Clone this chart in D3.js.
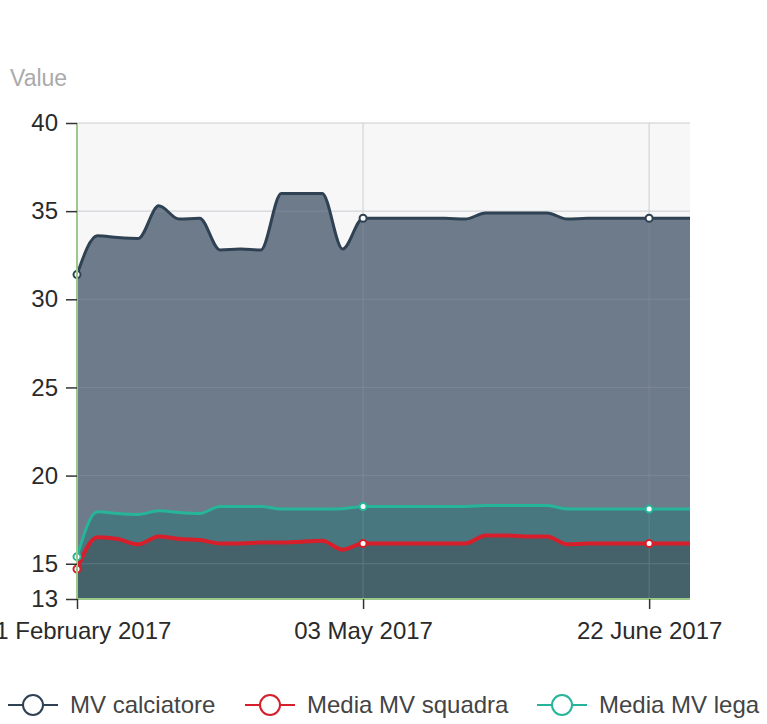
<!DOCTYPE html>
<html>
<head>
<meta charset="utf-8">
<script src="https://cdn.jsdelivr.net/npm/d3@7"></script>
<style>
  html, body { margin: 0; padding: 0; background: #fff; }
  svg { display: block; font-family: "Liberation Sans", Arial, Helvetica, sans-serif; }
</style>
</head>
<body>
<svg id="chart" width="767" height="724"></svg>
<script>
// ---- data ----
const dates = [
  "2017-02-11","2017-02-17","2017-02-23","2017-03-01","2017-03-07","2017-03-13","2017-03-19",
  "2017-03-25","2017-03-31","2017-04-06","2017-04-12","2017-04-18","2017-04-24","2017-04-29",
  "2017-05-03","2017-05-07","2017-05-10","2017-05-14","2017-05-17","2017-05-21","2017-05-24",
  "2017-05-28","2017-05-31","2017-06-04","2017-06-07","2017-06-11","2017-06-14","2017-06-18",
  "2017-06-22","2017-06-25","2017-06-29"
];
const mvCalciatore = [31.4, 33.6, 33.5, 33.45, 35.3, 34.55, 34.6, 32.8, 32.85, 32.8, 36.0, 36.0, 36.0, 32.85, 34.6,
  34.6, 34.6, 34.6, 34.6, 34.55, 34.9, 34.9, 34.9, 34.9, 34.55, 34.6, 34.6, 34.6, 34.6, 34.6, 34.6];
const mediaSquadra = [14.7, 16.5, 16.4, 16.1, 16.55, 16.4, 16.35, 16.15, 16.15, 16.2, 16.2, 16.25, 16.3, 15.8, 16.15,
  16.15, 16.15, 16.15, 16.15, 16.15, 16.6, 16.6, 16.55, 16.55, 16.1, 16.15, 16.15, 16.15, 16.15, 16.15, 16.15];
const mediaLega = [15.4, 17.95, 17.85, 17.8, 18.0, 17.9, 17.85, 18.25, 18.25, 18.25, 18.1, 18.1, 18.1, 18.12, 18.25,
  18.25, 18.25, 18.25, 18.25, 18.25, 18.3, 18.3, 18.3, 18.3, 18.1, 18.1, 18.1, 18.1, 18.1, 18.1, 18.1];
const seriesNames = ["MV calciatore", "Media MV squadra", "Media MV lega"];
const yTicks = [13, 15, 20, 25, 30, 35, 40];
const xTickDates = ["2017-02-11", "2017-05-03", "2017-06-22"];
const yLabel = "Value";

// ---- styles (indexed like seriesNames) ----
const lineColors = ["#2f4254", "#d71f2b", "#27b59a"];
const areaColors = ["#6e7b8b", "#45626b", "#487780"];
const lineWidths = [3, 4, 3];

const svg = d3.select("#chart");
const margin = { left: 77, top: 123 };
const W = 613, H = 476;
const g = svg.append("g").attr("transform", `translate(${margin.left},${margin.top})`);

const x = d3.scalePoint().domain(dates).range([0, W]);
const y = d3.scaleLinear().domain([13, 40]).range([H, 0]);
const parse = d3.timeParse("%Y-%m-%d");
const fmt = d3.timeFormat("%d %B %Y");

// background
g.append("rect").attr("x", 0).attr("y", 0).attr("width", W).attr("height", H).attr("fill", "#f7f7f7");

function drawGrid(parent, color, opacity) {
  const gg = parent.append("g").attr("opacity", opacity);
  gg.selectAll("line.h").data(yTicks).join("line").attr("class", "h")
    .attr("x1", 0).attr("x2", W).attr("y1", d => y(d)).attr("y2", d => y(d))
    .attr("stroke", color).attr("stroke-width", 1);
  gg.selectAll("line.v").data(xTickDates).join("line").attr("class", "v")
    .attr("x1", d => x(d)).attr("x2", d => x(d)).attr("y1", 0).attr("y2", H)
    .attr("stroke", color).attr("stroke-width", 1);
}
drawGrid(g, "#e4e4e4", 1);

// draw order: calciatore, lega, squadra
const series = [mvCalciatore, mediaLega, mediaSquadra];
const colorIdx = [0, 2, 1];

const area = d3.area().x((d, i) => x(dates[i])).y0(H).y1(d => y(d)).curve(d3.curveMonotoneX);
const line = d3.line().x((d, i) => x(dates[i])).y(d => y(d)).curve(d3.curveMonotoneX);

series.forEach((s, k) => {
  g.append("path").datum(s).attr("d", area).attr("fill", areaColors[colorIdx[k]]);
});
drawGrid(g, "#9aa5b1", 0.3);

series.forEach((s, k) => {
  const c = colorIdx[k];
  g.append("path").datum(s).attr("d", line).attr("fill", "none")
    .attr("stroke", lineColors[c]).attr("stroke-width", lineWidths[c]).attr("stroke-linejoin", "round");
});
// markers at labelled dates
const markIdx = xTickDates.map(d => dates.indexOf(d));
series.forEach((s, k) => {
  const c = colorIdx[k];
  g.append("g").selectAll("circle").data(markIdx).join("circle")
    .attr("cx", i => x(dates[i])).attr("cy", i => y(s[i])).attr("r", 3.5)
    .attr("fill", "#fff").attr("stroke", lineColors[c]).attr("stroke-width", 2);
});

// axes
const yAxis = g.append("g").call(d3.axisLeft(y).tickValues(yTicks).tickSize(11).tickPadding(8));
const xAxis = g.append("g").attr("transform", `translate(0,${H})`)
  .call(d3.axisBottom(x).tickValues(xTickDates).tickFormat(d => fmt(parse(d))).tickSize(10).tickPadding(10));
[yAxis, xAxis].forEach(a => {
  a.select(".domain").attr("stroke", "#9cc98a").attr("stroke-width", 2);
  a.selectAll(".tick line").attr("stroke", "#333").attr("stroke-width", 1.5);
  a.selectAll(".tick text").attr("fill", "#2a2a2a").attr("font-size", 24)
    .attr("font-family", "'Liberation Sans', Arial, sans-serif");
});
yAxis.select(".domain").attr("d", `M0,0V${H}`);
xAxis.select(".domain").attr("d", `M0,0H${W}`);
xAxis.selectAll(".tick text").attr("dy", "0.85em");

// y label
svg.append("text").attr("x", 10).attr("y", 86).text(yLabel)
  .attr("fill", "#aaa").attr("font-size", 23);

// legend
const legendStarts = [8, 245, 537];
const leg = svg.append("g").attr("transform", "translate(0,705)");
seriesNames.forEach((name, i) => {
  const s = leg.append("g").attr("transform", `translate(${legendStarts[i]},0)`);
  s.append("line").attr("x1", 0).attr("x2", 50).attr("y1", 0).attr("y2", 0)
    .attr("stroke", lineColors[i]).attr("stroke-width", 2);
  s.append("circle").attr("cx", 25).attr("cy", 0).attr("r", 10)
    .attr("fill", "#fff").attr("stroke", lineColors[i]).attr("stroke-width", 2);
  s.append("text").attr("x", 62).attr("y", 0).attr("dy", "0.35em").text(name)
    .attr("fill", "#444").attr("font-size", 24);
});
</script>
</body>
</html>
